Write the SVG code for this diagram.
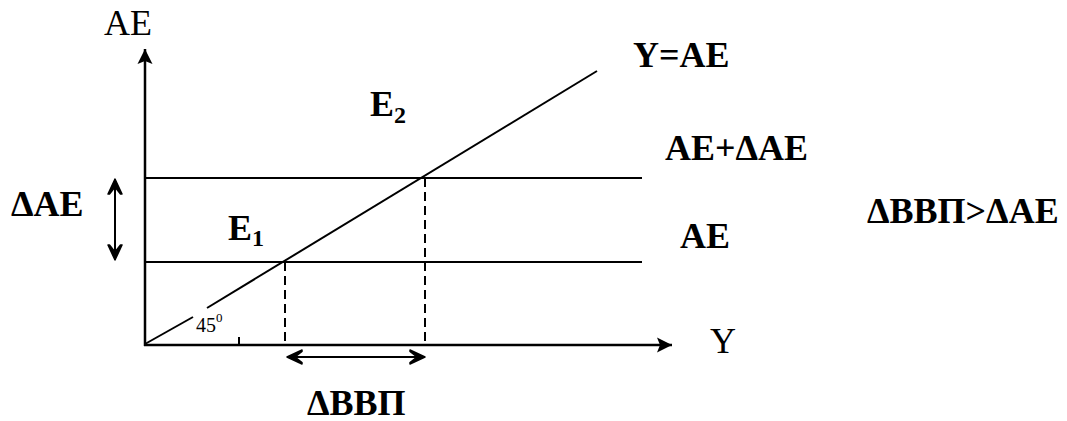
<svg xmlns="http://www.w3.org/2000/svg" width="1067" height="421" viewBox="0 0 1067 421">
<style>
.ax{stroke:#000;stroke-width:2.5;fill:none}
.ln{stroke:#000;stroke-width:2;fill:none}
.dash{stroke:#000;stroke-width:2;stroke-dasharray:9,5;fill:none}
.lbl{font-family:"Liberation Serif","Times New Roman",serif;font-size:36px;fill:#000}
.b{font-weight:bold}
</style>
<defs>
<marker id="axhead" markerUnits="userSpaceOnUse" markerWidth="20" markerHeight="20" viewBox="-16 -10 18 20" refX="0" refY="0" orient="auto">
<path d="M0,0 L-15,-7.5 L-12,0 L-15,7.5 Z" fill="#000"/>
</marker>
<marker id="chev" markerUnits="userSpaceOnUse" markerWidth="20" markerHeight="20" viewBox="-18 -10 20 20" refX="0" refY="0" orient="auto-start-reverse">
<path d="M0,0 L-15,-7 L-15,-5.5 L-8,0 L-15,5.5 L-15,7 Z" fill="#000" stroke="#000" stroke-width="1.5" stroke-linejoin="round"/>
</marker>
</defs>
<g id="axes">
<line class="ax" x1="145" y1="346" x2="145" y2="49" marker-end="url(#axhead)"/>
<line class="ax" x1="144" y1="345" x2="672" y2="345" marker-end="url(#axhead)"/>
<line class="ln" x1="239" y1="337" x2="239" y2="345"/>
</g>
<g id="connectors">
<line class="ln" x1="145" y1="178" x2="642" y2="178"/>
<line class="ln" x1="145" y1="262" x2="642" y2="262"/>
<line class="ln" x1="145" y1="344" x2="193" y2="317"/>
<line class="ln" x1="207" y1="308" x2="597" y2="71"/>
<line class="dash" x1="285" y1="262" x2="285" y2="344"/>
<line class="dash" x1="425" y1="178" x2="425" y2="344"/>
<line class="ln" x1="115" y1="179" x2="115" y2="260" marker-start="url(#chev)" marker-end="url(#chev)"/>
<line class="ln" x1="287" y1="357" x2="425" y2="357" marker-start="url(#chev)" marker-end="url(#chev)"/>
</g>
<g id="label-axis-ae"><text class="lbl" x="104" y="35">AE</text></g>
<g id="label-axis-y"><text class="lbl" x="710" y="353">Y</text></g>
<g id="label-45"><text x="196" y="332" font-family="Liberation Serif, serif" font-size="20">45<tspan font-size="13" dy="-10">0</tspan></text></g>
<g id="label-yae"><text class="lbl b" x="633" y="67">Y=AE</text></g>
<g id="label-e2"><text class="lbl b" x="370" y="116">E<tspan font-size="24" dy="7">2</tspan></text></g>
<g id="label-aedae"><text class="lbl b" x="665" y="160">AE+ΔAE</text></g>
<g id="label-ae"><text class="lbl b" x="680" y="248">AE</text></g>
<g id="label-e1"><text class="lbl b" x="228" y="240">E<tspan font-size="24" dy="6">1</tspan></text></g>
<g id="label-dae"><text class="lbl b" x="11" y="216">ΔAE</text></g>
<g id="label-dvvp"><text class="lbl b" x="307" y="415">ΔВВП</text></g>
<g id="label-cmp"><text class="lbl b" x="867" y="223">ΔВВП&gt;ΔAE</text></g>
</svg>
